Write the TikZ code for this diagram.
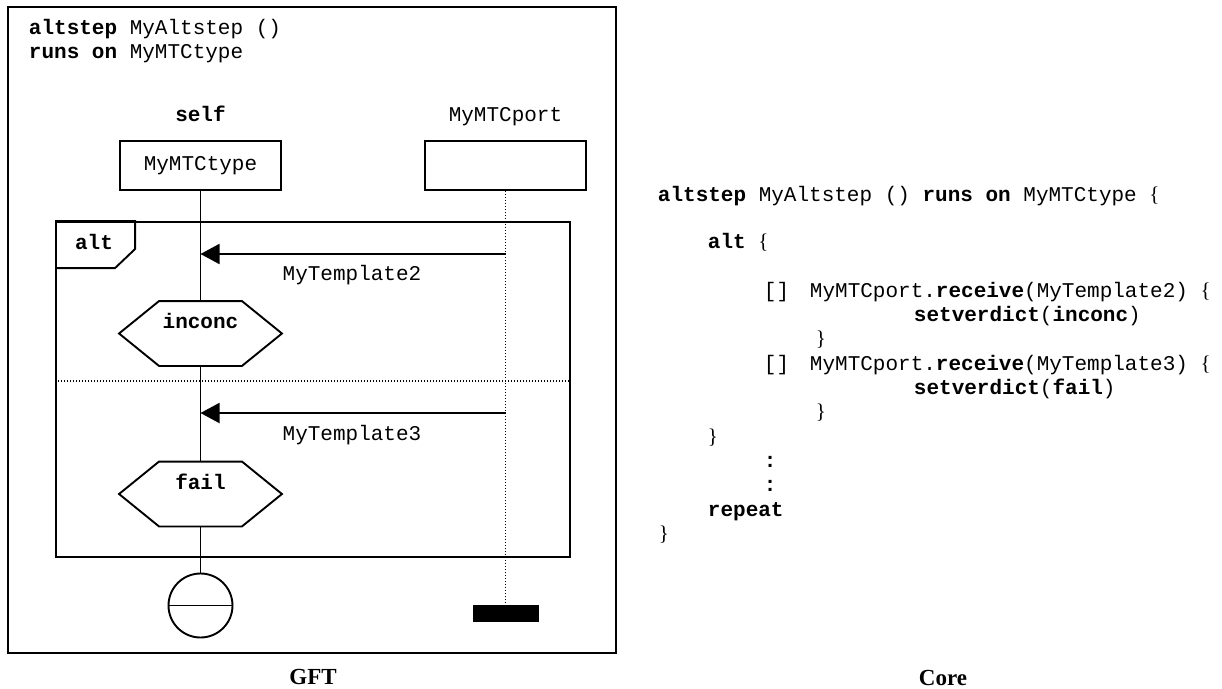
\documentclass[tikz,border=0pt]{standalone}
\usepackage{fontspec}
\setmainfont{Liberation Serif}
\setmonofont{Liberation Mono}
\usetikzlibrary{arrows.meta}
\newcommand{\lbr}{{\rmfamily\{}}
\newcommand{\rbr}{{\rmfamily\}}}

\begin{document}
\begin{tikzpicture}[x=1pt, y=-1pt, line width=1.9pt,
    code/.style={anchor=base west, inner sep=0pt, font=\ttfamily\fontsize{21}{24}\selectfont},
    ctext/.style={anchor=base, inner sep=0pt, font=\ttfamily\fontsize{21}{24}\selectfont},
    instbox/.style={draw, minimum width=161pt, minimum height=49pt, inner sep=0pt,
      font=\ttfamily\fontsize{21}{24}\selectfont},
    hexarea/.style={minimum width=161pt, minimum height=63pt, inner sep=0pt},
    lifeline/.style={dash pattern=on 1.3pt off 1.7pt, line width=1.4pt},
    msg/.style={-{Triangle[length=19pt, width=20pt]}},
    caption/.style={anchor=base, inner sep=0pt, font=\bfseries\fontsize{23}{26}\selectfont}]

  \useasboundingbox (0,0) rectangle (1222,688);

  % --- cornice GFT ---
  \node[draw, minimum width=608pt, minimum height=646pt, inner sep=0pt] (frame) at (312,330) {};
  \node[code] (hdr1) at (28,34) {\textbf{altstep} MyAltstep ()};
  \node[code] (hdr2) at (28,58) {\textbf{runs on} MyMTCtype};

  % --- istanze ---
  \node[ctext] (selflbl) at (200.5,121) {\textbf{self}};
  \node[ctext] (portlbl) at (505.5,121) {MyMTCport};
  \node[instbox] (self) at (200.5,165.5) {MyMTCtype};
  \node[instbox] (port) at (505.5,165.5) {};

  % --- alt ---
  \node[draw, minimum width=514pt, minimum height=335pt, inner sep=0pt] (altframe) at (313,389.5) {};
  \draw (altframe.north west) -- ++(80,0) -- ++(0,28) -- ++(-20,19) -- ++(-60,0);
  \node[ctext] (altlbl) at (94,249) {\textbf{alt}};
  \coordinate (sep) at (0,381);
  \draw[lifeline] (altframe.west |- sep) -- (altframe.east |- sep);

  % --- ramo 1 ---
  \coordinate (m1) at (0,254);
  \draw[msg] (port.south |- m1) -- (self.south |- m1);
  \node[ctext] (tmpl2) at (352,280) {MyTemplate2};
  \node[hexarea] (inconc) at (200.5,333.5) {};
  \draw (inconc.west) -- ([xshift=40pt]inconc.north west) -- ([xshift=-40pt]inconc.north east)
    -- (inconc.east) -- ([xshift=-40pt]inconc.south east) -- ([xshift=40pt]inconc.south west) -- cycle;
  \node[ctext] (inconclbl) at (200.5,328) {\textbf{inconc}};

  % --- ramo 2 ---
  \coordinate (m2) at (0,413);
  \draw[msg] (port.south |- m2) -- (self.south |- m2);
  \node[ctext] (tmpl3) at (352,440) {MyTemplate3};
  \node[hexarea] (fail) at (200.5,494) {};
  \draw (fail.west) -- ([xshift=40pt]fail.north west) -- ([xshift=-40pt]fail.north east)
    -- (fail.east) -- ([xshift=-40pt]fail.south east) -- ([xshift=40pt]fail.south west) -- cycle;
  \node[ctext] (faillbl) at (200.5,489) {\textbf{fail}};

  % --- fine ---
  \node[draw, circle, minimum size=64pt, inner sep=0pt] (stop) at (200.5,605.5) {};
  \draw (stop.west) -- (stop.east);
  \node[fill, minimum width=66pt, minimum height=17pt, inner sep=0pt] (portend) at (505.5,613.5) {};

  % --- linee di vita ---
  \draw (self.south) -- (inconc.north);
  \draw (inconc.south) -- (fail.north);
  \draw (fail.south) -- (stop.north);
  \draw[lifeline] (port.south) -- (portend.north);

  % --- core ---
  \node[code] (c1) at (657,201) {\textbf{altstep} MyAltstep () \textbf{runs on} MyMTCtype \lbr};
  \node[code] (c2) at (707,248) {\textbf{alt} \lbr};
  \node[code] (c3a) at (763,297) {[]};
  \node[code] (c3) at (809,297) {MyMTCport.\textbf{receive}(MyTemplate2) \lbr};
  \node[code] (c4) at (913,321) {\textbf{setverdict}(\textbf{inconc})};
  \node[code] (c5) at (815,345) {\rbr};
  \node[code] (c6a) at (763,370) {[]};
  \node[code] (c6) at (809,370) {MyMTCport.\textbf{receive}(MyTemplate3) \lbr};
  \node[code] (c7) at (913,394) {\textbf{setverdict}(\textbf{fail})};
  \node[code] (c8) at (815,418) {\rbr};
  \node[code] (c9) at (707,443) {\rbr};
  \node[code] (c10) at (763,467) {\textbf{:}};
  \node[code] (c11) at (763,491) {\textbf{:}};
  \node[code] (c12) at (707,516) {\textbf{repeat}};
  \node[code] (c13) at (658,540) {\rbr};

  % --- didascalie ---
  \node[caption] (gft) at (313,684) {GFT};
  \node[caption] (core) at (943,685) {Core};

\end{tikzpicture}
\end{document}
